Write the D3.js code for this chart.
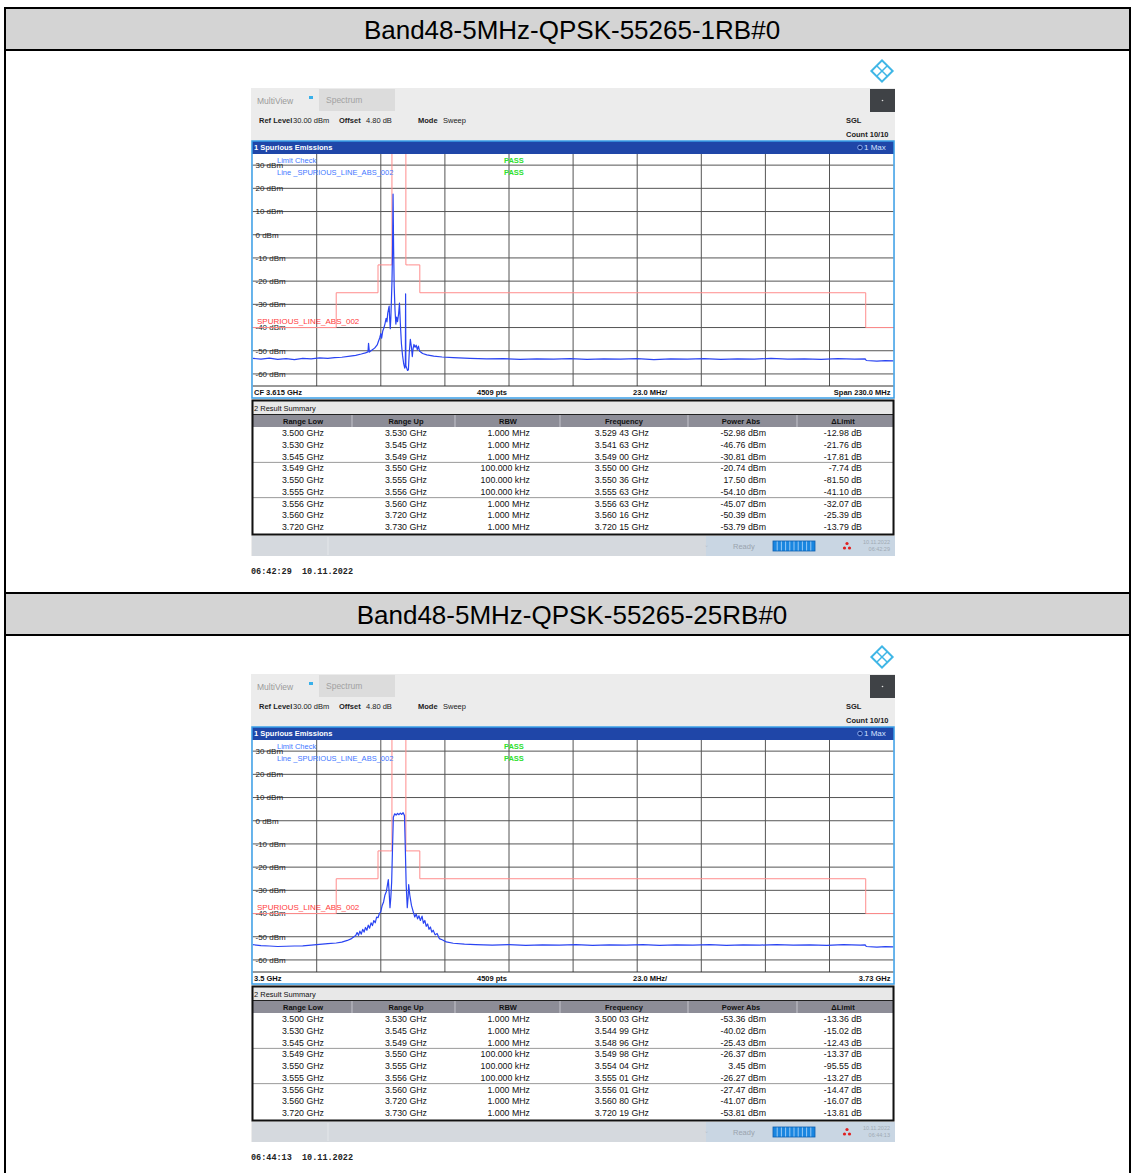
<!DOCTYPE html>
<html lang="en">
<head>
<meta charset="utf-8">
<title>Band48 spurious emissions</title>
<script src="https://cdnjs.cloudflare.com/ajax/libs/d3/7.8.5/d3.min.js"></script>
<style>
  body { margin: 0; background: #fff; }
  svg text { font-family: "Liberation Sans", Arial, sans-serif; }
  svg text.stamp { font-family: "Liberation Mono", "DejaVu Sans Mono", monospace; white-space: pre; }
</style>
</head>
<body>
<script>
// page size
var W = 1131, H = 1173;

// headers and labels
var titles = ["Band48-5MHz-QPSK-55265-1RB#0", "Band48-5MHz-QPSK-55265-25RB#0"];
var cornerLeft = ["CF 3.615 GHz", "3.5 GHz"];
var cornerRight = ["Span 230.0 MHz", "3.73 GHz"];
var sweepTimes = ["06:42:29", "06:44:13"];
var sweepDate = "10.11.2022";

// axes
var yTicks = [30, 20, 10, 0, -10, -20, -30, -40, -50, -60];
var freqStart = 3.5, freqStop = 3.73;   // GHz
var levelTop = 34.8, levelBottom = -65.2; // dBm (ref 30 dBm + 4.8 dB offset)
var divisions = 10;

// limit line SPURIOUS_LINE_ABS_002 (GHz, dBm)
var limitLow   = [3.500, 3.530, 3.545, 3.549, 3.550, 3.555, 3.556, 3.560, 3.720];
var limitUp    = [3.530, 3.545, 3.549, 3.550, 3.555, 3.556, 3.560, 3.720, 3.730];
var limitLevel = [-40, -25, -13, -13, 99, -13, -13, -25, -40];

// result summary
var rangeLow = ["3.500 GHz", "3.530 GHz", "3.545 GHz", "3.549 GHz", "3.550 GHz", "3.555 GHz", "3.556 GHz", "3.560 GHz", "3.720 GHz"];
var rangeUp  = ["3.530 GHz", "3.545 GHz", "3.549 GHz", "3.550 GHz", "3.555 GHz", "3.556 GHz", "3.560 GHz", "3.720 GHz", "3.730 GHz"];
var rbw      = ["1.000 MHz", "1.000 MHz", "1.000 MHz", "100.000 kHz", "100.000 kHz", "100.000 kHz", "1.000 MHz", "1.000 MHz", "1.000 MHz"];

var freq1  = ["3.529 43 GHz", "3.541 63 GHz", "3.549 00 GHz", "3.550 00 GHz", "3.550 36 GHz", "3.555 63 GHz", "3.556 63 GHz", "3.560 16 GHz", "3.720 15 GHz"];
var power1 = ["-52.98 dBm", "-46.76 dBm", "-30.81 dBm", "-20.74 dBm", "17.50 dBm", "-54.10 dBm", "-45.07 dBm", "-50.39 dBm", "-53.79 dBm"];
var delta1 = ["-12.98 dB", "-21.76 dB", "-17.81 dB", "-7.74 dB", "-81.50 dB", "-41.10 dB", "-32.07 dB", "-25.39 dB", "-13.79 dB"];

var freq2  = ["3.500 03 GHz", "3.544 99 GHz", "3.548 96 GHz", "3.549 98 GHz", "3.554 04 GHz", "3.555 01 GHz", "3.556 01 GHz", "3.560 80 GHz", "3.720 19 GHz"];
var power2 = ["-53.36 dBm", "-40.02 dBm", "-25.43 dBm", "-26.37 dBm", "3.45 dBm", "-26.27 dBm", "-27.47 dBm", "-41.07 dBm", "-53.81 dBm"];
var delta2 = ["-13.36 dB", "-15.02 dB", "-12.43 dB", "-13.37 dB", "-95.55 dB", "-13.27 dB", "-14.47 dB", "-16.07 dB", "-13.81 dB"];

// trace 1 Max (GHz, dBm)
var trace1 = [
  [3.5000,-53.3],[3.5030,-53.6],[3.5060,-53.2],[3.5090,-53.7],[3.5120,-53.4],[3.5150,-53.8],
  [3.5180,-53.3],[3.5210,-53.5],[3.5240,-53.1],[3.5270,-53.3],[3.5294,-53.0],[3.5320,-52.8],
  [3.5350,-52.3],[3.5370,-52.0],[3.5390,-51.4],[3.5405,-50.9],[3.5414,-50.5],[3.5416,-46.8],
  [3.5419,-50.6],[3.5425,-50.0],[3.5432,-49.4],[3.5440,-48.6],[3.5447,-47.5],[3.5452,-45.8],
  [3.5456,-44.5],[3.5460,-42.6],[3.5463,-44.6],[3.5467,-41.5],[3.5471,-40.2],[3.5475,-38.4],
  [3.5479,-36.0],[3.5482,-37.6],[3.5485,-33.8],[3.5488,-31.9],[3.5490,-30.8],[3.5492,-36.5],
  [3.5494,-40.5],[3.5496,-36.0],[3.5498,-28.5],[3.5500,-20.7],[3.5502,-8.0],[3.5504,17.5],
  [3.5506,-6.0],[3.5508,-22.0],[3.5511,-32.5],[3.5514,-38.5],[3.5517,-35.5],[3.5520,-37.5],
  [3.5524,-34.0],[3.5527,-29.5],[3.5530,-38.0],[3.5534,-47.0],[3.5538,-52.0],[3.5542,-55.5],
  [3.5546,-57.5],[3.5548,-56.5],[3.5549,-25.5],[3.5550,-56.5],[3.5553,-57.5],[3.5556,-58.5],
  [3.5559,-58.2],[3.5562,-51.0],[3.5566,-45.1],[3.5570,-48.5],[3.5573,-52.5],[3.5576,-49.0],
  [3.5579,-47.3],[3.5583,-48.5],[3.5587,-47.6],[3.5591,-49.5],[3.5595,-48.0],[3.5599,-50.2],
  [3.5602,-50.4],[3.5610,-51.2],[3.5625,-51.8],[3.5650,-52.3],[3.5680,-52.7],[3.5720,-53.0],
  [3.5780,-53.3],[3.5840,-53.5],[3.5900,-53.4],[3.5960,-53.7],[3.6020,-53.5],[3.6080,-53.6],
  [3.6140,-53.4],[3.6200,-53.7],[3.6260,-53.5],[3.6320,-53.6],[3.6380,-53.4],[3.6440,-53.8],
  [3.6500,-53.5],[3.6560,-53.6],[3.6620,-53.4],[3.6680,-53.7],[3.6740,-53.5],[3.6800,-53.6],
  [3.6860,-53.3],[3.6920,-53.6],[3.6980,-53.5],[3.7040,-53.7],[3.7100,-53.4],[3.7160,-53.6],
  [3.7198,-53.5],[3.7202,-54.2],[3.7240,-54.5],[3.7270,-54.3],[3.7300,-54.4]
];

var trace2 = [
  [3.5000,-53.4],[3.5030,-53.8],[3.5060,-54.0],[3.5090,-54.2],[3.5120,-54.1],[3.5150,-54.0],
  [3.5180,-53.9],[3.5210,-53.6],[3.5240,-53.3],[3.5270,-53.0],[3.5300,-52.7],[3.5320,-52.3],
  [3.5340,-51.6],[3.5355,-50.8],[3.5370,-49.5],[3.5375,-48.2],[3.5380,-49.4],[3.5385,-47.6],
  [3.5390,-48.9],[3.5395,-46.8],[3.5400,-48.0],[3.5405,-46.0],[3.5410,-47.2],[3.5415,-45.0],
  [3.5420,-46.3],[3.5425,-44.0],[3.5430,-45.2],[3.5435,-43.0],[3.5440,-44.0],[3.5445,-41.5],
  [3.5450,-41.8],[3.5455,-40.0],[3.5460,-39.2],[3.5465,-36.5],[3.5470,-35.0],[3.5475,-32.0],
  [3.5480,-30.5],[3.5484,-27.5],[3.5487,-25.4],[3.5490,-31.0],[3.5493,-37.5],[3.5496,-33.0],
  [3.5499,-26.4],[3.5502,-12.0],[3.5505,1.5],[3.5510,3.0],[3.5515,2.4],[3.5520,3.2],
  [3.5525,2.6],[3.5530,3.3],[3.5535,2.7],[3.5540,3.45],[3.5545,2.2],[3.5548,-12.0],
  [3.5551,-27.5],[3.5555,-37.5],[3.5558,-33.0],[3.5560,-27.5],[3.5564,-32.0],[3.5570,-36.5],
  [3.5577,-39.5],[3.5582,-41.5],[3.5587,-40.2],[3.5592,-42.3],[3.5597,-41.0],[3.5602,-43.0],
  [3.5608,-41.1],[3.5613,-44.2],[3.5618,-43.0],[3.5623,-45.5],[3.5628,-44.5],[3.5633,-46.8],
  [3.5638,-45.8],[3.5643,-48.0],[3.5648,-47.2],[3.5655,-49.2],[3.5662,-48.6],[3.5670,-50.8],
  [3.5680,-51.3],[3.5695,-52.2],[3.5720,-52.8],[3.5760,-53.2],[3.5800,-53.4],[3.5860,-53.6],
  [3.5920,-53.4],[3.5980,-53.7],[3.6040,-53.5],[3.6100,-53.6],[3.6160,-53.4],[3.6220,-53.7],
  [3.6280,-53.5],[3.6340,-53.6],[3.6400,-53.4],[3.6460,-53.7],[3.6520,-53.5],[3.6580,-53.6],
  [3.6640,-53.4],[3.6700,-53.7],[3.6760,-53.5],[3.6820,-53.6],[3.6880,-53.4],[3.6940,-53.6],
  [3.7000,-53.5],[3.7060,-53.7],[3.7120,-53.4],[3.7180,-53.6],[3.7198,-53.5],[3.7202,-54.2],
  [3.7240,-54.5],[3.7270,-54.3],[3.7300,-54.4]
];

var panels = [
  { title: titles[0], left: cornerLeft[0], right: cornerRight[0], time: sweepTimes[0], trace: trace1, freq: freq1, power: power1, delta: delta1 },
  { title: titles[1], left: cornerLeft[1], right: cornerRight[1], time: sweepTimes[1], trace: trace2, freq: freq2, power: power2, delta: delta2 }
];

var svg = d3.select("body").append("svg")
  .attr("width", W).attr("height", H);

// plot area of the analyzer screen
var px0 = 252.6, px1 = 893.6, py0 = 154, py1 = 386;

var x = d3.scaleLinear().domain([freqStart, freqStop]).range([px0, px1]);
var y = d3.scaleLinear().domain([levelBottom, levelTop]).range([py1, py0]);

var xGrid = d3.range(1, divisions).map(function(i) {
  return freqStart + i * (freqStop - freqStart) / divisions;
});

var traceLine = d3.line()
  .x(function(d) { return x(d[0]); })
  .y(function(d) { return y(d[1]); });

var limitPts = [];
limitLow.forEach(function(lo, i) {
  limitPts.push([lo, limitLevel[i]]);
  limitPts.push([limitUp[i], limitLevel[i]]);
});

// result table columns
var cols = [
  { head: "Range Low", hx: 303, tx: 303, anchor: "middle", key: "low" },
  { head: "Range Up", hx: 406, tx: 406, anchor: "middle", key: "up" },
  { head: "RBW", hx: 508, tx: 530, anchor: "end", key: "rbw" },
  { head: "Frequency", hx: 624, tx: 649, anchor: "end", key: "freq" },
  { head: "Power Abs", hx: 741, tx: 766, anchor: "end", key: "power" },
  { head: "\u0394Limit", hx: 843, tx: 862, anchor: "end", key: "delta" }
];
var colSep = [352, 455, 560, 688, 797];

panels.forEach(function(p, pi) {
  var hTop = 8 + 585 * pi;

  // outer table header
  svg.append("rect")
    .attr("x", 5).attr("y", hTop).attr("width", W - 6).attr("height", 42)
    .attr("fill", "#d4d4d4");
  svg.append("line")
    .attr("x1", 4).attr("x2", W).attr("y1", hTop).attr("y2", hTop)
    .attr("stroke", "#000").attr("stroke-width", 2);
  svg.append("line")
    .attr("x1", 4).attr("x2", W).attr("y1", hTop + 42).attr("y2", hTop + 42)
    .attr("stroke", "#000").attr("stroke-width", 2);
  svg.append("text")
    .attr("x", 572).attr("y", hTop + 22).attr("dy", "0.35em")
    .attr("text-anchor", "middle")
    .attr("font-size", "26px").attr("fill", "#000")
    .text(p.title);

  var g = svg.append("g").attr("transform", "translate(0," + (586 * pi) + ")");

  // logo
  var logo = g.append("g").attr("transform", "translate(882,71) rotate(45)")
    .attr("fill", "none").attr("stroke", "#3fb6e6").attr("stroke-width", 2);
  logo.append("rect").attr("x", -7.5).attr("y", -7.5).attr("width", 15).attr("height", 15);
  logo.append("line").attr("x1", -7.5).attr("x2", 7.5).attr("y1", 0).attr("y2", 0).attr("stroke-width", 1.5);
  logo.append("line").attr("x1", 0).attr("x2", 0).attr("y1", -7.5).attr("y2", 7.5).attr("stroke-width", 1.5);

  // screen background
  g.append("rect")
    .attr("x", 251).attr("y", 88).attr("width", 644).attr("height", 468)
    .attr("fill", "#ececec");

  // toolbar
  g.append("text").attr("x", 257).attr("y", 101).attr("dy", "0.35em")
    .attr("font-size", "8.5px").attr("fill", "#9a9a9a").text("MultiView");
  g.append("rect").attr("x", 309).attr("y", 96).attr("width", 4).attr("height", 3).attr("fill", "#38b0ea");
  g.append("rect").attr("x", 319).attr("y", 89).attr("width", 76).attr("height", 22).attr("fill", "#dcdcdc");
  g.append("text").attr("x", 326).attr("y", 100).attr("dy", "0.35em")
    .attr("font-size", "8.5px").attr("fill", "#a2a2a2").text("Spectrum");
  g.append("rect").attr("x", 870).attr("y", 89).attr("width", 25).attr("height", 23).attr("fill", "#3f4246");
  g.append("circle").attr("cx", 882.5).attr("cy", 100.5).attr("r", 0.8).attr("fill", "#ddd");

  var info = [
    { t: "Ref Level", x: 259, b: true }, { t: "30.00 dBm", x: 293, b: false },
    { t: "Offset", x: 339, b: true }, { t: "4.80 dB", x: 366, b: false },
    { t: "Mode", x: 418, b: true }, { t: "Sweep", x: 443, b: false }
  ];
  g.selectAll("text.info").data(info).enter().append("text")
    .attr("class", "info")
    .attr("x", function(d) { return d.x; }).attr("y", 120).attr("dy", "0.35em")
    .attr("font-size", "7.5px").attr("font-weight", function(d) { return d.b ? "bold" : "normal"; })
    .attr("fill", "#222").text(function(d) { return d.t; });
  g.append("text").attr("x", 846).attr("y", 120).attr("dy", "0.35em")
    .attr("font-size", "7.5px").attr("font-weight", "bold").attr("fill", "#222").text("SGL");
  g.append("text").attr("x", 846).attr("y", 134).attr("dy", "0.35em")
    .attr("font-size", "7.5px").attr("font-weight", "bold").attr("fill", "#222").text("Count 10/10");

  // diagram window
  g.append("rect").attr("x", 252).attr("y", 141).attr("width", 642).attr("height", 257)
    .attr("fill", "#fff");
  g.append("rect").attr("x", 252).attr("y", 141).attr("width", 642).attr("height", 13)
    .attr("fill", "#1f46a8");
  g.append("text").attr("x", 254).attr("y", 147.5).attr("dy", "0.35em")
    .attr("font-size", "7.5px").attr("font-weight", "bold").attr("fill", "#fff").text("1 Spurious Emissions");
  g.append("circle").attr("cx", 860).attr("cy", 147.5).attr("r", 2.3)
    .attr("fill", "#0c2a80").attr("stroke", "#9fc0ff").attr("stroke-width", 0.8);
  g.append("text").attr("x", 864).attr("y", 147.5).attr("dy", "0.35em")
    .attr("font-size", "8px").attr("fill", "#d6e2ff").text("1 Max");

  // grid
  g.selectAll("line.hgrid").data(yTicks).enter().append("line")
    .attr("class", "hgrid")
    .attr("x1", px0).attr("x2", px1)
    .attr("y1", function(d) { return y(d); }).attr("y2", function(d) { return y(d); })
    .attr("stroke", "#555").attr("stroke-width", 1);
  g.selectAll("line.vgrid").data(xGrid).enter().append("line")
    .attr("class", "vgrid")
    .attr("x1", function(d) { return x(d); }).attr("x2", function(d) { return x(d); })
    .attr("y1", py0).attr("y2", py1)
    .attr("stroke", "#555").attr("stroke-width", 1);
  g.append("line").attr("x1", px0).attr("x2", px1).attr("y1", py1).attr("y2", py1)
    .attr("stroke", "#333").attr("stroke-width", 1);

  // y labels
  g.selectAll("text.ylab").data(yTicks).enter().append("text")
    .attr("class", "ylab")
    .attr("x", 255.5).attr("y", function(d) { return y(d); }).attr("dy", "0.35em")
    .attr("font-size", "8px").attr("fill", "#222")
    .text(function(d) { return d + " dBm"; });

  // clip for the traces
  g.append("clipPath").attr("id", "clip" + pi)
    .append("rect").attr("x", px0).attr("y", py0).attr("width", px1 - px0).attr("height", py1 - py0);

  // limit line
  g.append("path").datum(limitPts)
    .attr("clip-path", "url(#clip" + pi + ")")
    .attr("d", traceLine)
    .attr("fill", "none").attr("stroke", "#ff8c8c").attr("stroke-width", 1);

  // trace
  g.append("path").datum(p.trace)
    .attr("clip-path", "url(#clip" + pi + ")")
    .attr("d", traceLine)
    .attr("fill", "none").attr("stroke", "#2a44f2").attr("stroke-width", 1.2)
    .attr("stroke-linejoin", "round");

  // limit check annotations
  g.append("text").attr("x", 277).attr("y", 160).attr("dy", "0.35em")
    .attr("font-size", "7.5px").attr("fill", "#3f78ff").text("Limit Check");
  g.append("text").attr("x", 277).attr("y", 172).attr("dy", "0.35em")
    .attr("font-size", "7.5px").attr("fill", "#3f78ff").text("Line _SPURIOUS_LINE_ABS_002");
  g.append("text").attr("x", 504).attr("y", 160).attr("dy", "0.35em")
    .attr("font-size", "7.5px").attr("font-weight", "bold").attr("fill", "#2ee02e").text("PASS");
  g.append("text").attr("x", 504).attr("y", 172).attr("dy", "0.35em")
    .attr("font-size", "7.5px").attr("font-weight", "bold").attr("fill", "#2ee02e").text("PASS");
  g.append("text").attr("x", 257).attr("y", 321).attr("dy", "0.35em")
    .attr("font-size", "8px").attr("fill", "#ff3b3b").text("SPURIOUS_LINE_ABS_002");

  // bottom info bar
  var by = 392;
  g.append("text").attr("x", 254).attr("y", by).attr("dy", "0.35em")
    .attr("font-size", "7.5px").attr("font-weight", "bold").attr("fill", "#111").text(p.left);
  g.append("text").attr("x", 477).attr("y", by).attr("dy", "0.35em")
    .attr("font-size", "7.5px").attr("font-weight", "bold").attr("fill", "#111").text("4509 pts");
  g.append("text").attr("x", 633).attr("y", by).attr("dy", "0.35em")
    .attr("font-size", "7.5px").attr("font-weight", "bold").attr("fill", "#111").text("23.0 MHz/");
  g.append("text").attr("x", 890.5).attr("y", by).attr("dy", "0.35em").attr("text-anchor", "end")
    .attr("font-size", "7.5px").attr("font-weight", "bold").attr("fill", "#111").text(p.right);

  g.append("rect").attr("x", 252).attr("y", 141).attr("width", 642).attr("height", 257)
    .attr("fill", "none").attr("stroke", "#3a9fe8").attr("stroke-width", 1.5);

  // result summary window
  g.append("rect").attr("x", 252).attr("y", 401).attr("width", 642).attr("height", 13).attr("fill", "#e8e8e8");
  g.append("text").attr("x", 254).attr("y", 408).attr("dy", "0.35em")
    .attr("font-size", "7.5px").attr("fill", "#111").text("2 Result Summary");
  g.append("rect").attr("x", 253).attr("y", 414).attr("width", 640).attr("height", 13).attr("fill", "#8d8d97");
  g.append("line").attr("x1", 253).attr("x2", 893).attr("y1", 414.5).attr("y2", 414.5)
    .attr("stroke", "#222").attr("stroke-width", 1);
  g.selectAll("line.csep").data(colSep).enter().append("line")
    .attr("class", "csep")
    .attr("x1", function(d) { return d; }).attr("x2", function(d) { return d; })
    .attr("y1", 415).attr("y2", 427)
    .attr("stroke", "#c4c4cc").attr("stroke-width", 1);
  g.selectAll("text.chead").data(cols).enter().append("text")
    .attr("class", "chead")
    .attr("x", function(d) { return d.hx; }).attr("y", 421).attr("dy", "0.35em")
    .attr("text-anchor", "middle")
    .attr("font-size", "7.5px").attr("font-weight", "bold").attr("fill", "#111")
    .text(function(d) { return d.head; });
  g.append("rect").attr("x", 253).attr("y", 427).attr("width", 640).attr("height", 107).attr("fill", "#fff");

  var rows = rangeLow.map(function(v, i) {
    return { low: v, up: rangeUp[i], rbw: rbw[i], freq: p.freq[i], power: p.power[i], delta: p.delta[i] };
  });
  var rowY = d3.scaleLinear().domain([0, 8]).range([433, 527]);
  [3, 6].forEach(function(k) {
    var ly = (rowY(k - 1) + rowY(k)) / 2;
    g.append("line").attr("x1", 253).attr("x2", 893).attr("y1", ly).attr("y2", ly)
      .attr("stroke", "#9a9a9a").attr("stroke-width", 1);
  });
  cols.forEach(function(c) {
    g.selectAll("text.cell-" + c.key).data(rows).enter().append("text")
      .attr("class", "cell-" + c.key)
      .attr("x", c.tx).attr("y", function(d, i) { return rowY(i); }).attr("dy", "0.35em")
      .attr("text-anchor", c.anchor)
      .attr("font-size", "8.8px").attr("fill", "#111")
      .text(function(d) { return d[c.key]; });
  });
  g.append("rect").attr("x", 252.5).attr("y", 400.5).attr("width", 641).attr("height", 134)
    .attr("fill", "none").attr("stroke", "#111").attr("stroke-width", 2);

  // status bar
  g.append("rect").attr("x", 252).attr("y", 536).attr("width", 643).attr("height", 20).attr("fill", "#d5d9de");
  g.append("rect").attr("x", 706).attr("y", 536).attr("width", 189).attr("height", 20).attr("fill", "#c9d6e3");
  g.append("line").attr("x1", 328).attr("x2", 328).attr("y1", 537).attr("y2", 555)
    .attr("stroke", "#e4e7ea").attr("stroke-width", 1);
  g.append("text").attr("x", 704).attr("y", 545).attr("dy", "0.35em")
    .attr("font-size", "6px").attr("fill", "#b8c2cc").text("\u2304");
  g.append("text").attr("x", 733).attr("y", 546).attr("dy", "0.35em")
    .attr("font-size", "7.5px").attr("fill", "#9aa4ae").text("Ready");
  g.append("rect").attr("x", 773).attr("y", 541).attr("width", 42).attr("height", 10)
    .attr("fill", "#1a86e0").attr("stroke", "#0d5fb0").attr("stroke-width", 0.8);
  g.selectAll("line.seg").data(d3.range(1, 10)).enter().append("line")
    .attr("class", "seg")
    .attr("x1", function(d) { return 773 + d * 4.2; }).attr("x2", function(d) { return 773 + d * 4.2; })
    .attr("y1", 541.5).attr("y2", 550.5)
    .attr("stroke", "#cfe6ff").attr("stroke-width", 0.7);
  [[847, 543.5], [844.5, 548], [849.5, 548]].forEach(function(c) {
    g.append("circle").attr("cx", c[0]).attr("cy", c[1]).attr("r", 1.6).attr("fill", "#e02020");
  });
  g.append("text").attr("x", 890).attr("y", 542).attr("dy", "0.35em").attr("text-anchor", "end")
    .attr("font-size", "5.5px").attr("fill", "#a0aab4").text(sweepDate);
  g.append("text").attr("x", 890).attr("y", 549.5).attr("dy", "0.35em").attr("text-anchor", "end")
    .attr("font-size", "5.5px").attr("fill", "#a0aab4").text(p.time);

  // capture time stamp
  g.append("text").attr("class", "stamp")
    .attr("x", 251).attr("y", 571).attr("dy", "0.35em")
    .attr("font-size", "8.5px").attr("font-weight", "bold").attr("fill", "#222")
    .text(p.time + "  " + sweepDate);
});

// outer table sides
svg.append("line").attr("x1", 5).attr("x2", 5).attr("y1", 7).attr("y2", H)
  .attr("stroke", "#000").attr("stroke-width", 2);
svg.append("line").attr("x1", W - 1).attr("x2", W - 1).attr("y1", 7).attr("y2", H)
  .attr("stroke", "#000").attr("stroke-width", 2);
</script>
</body>
</html>
